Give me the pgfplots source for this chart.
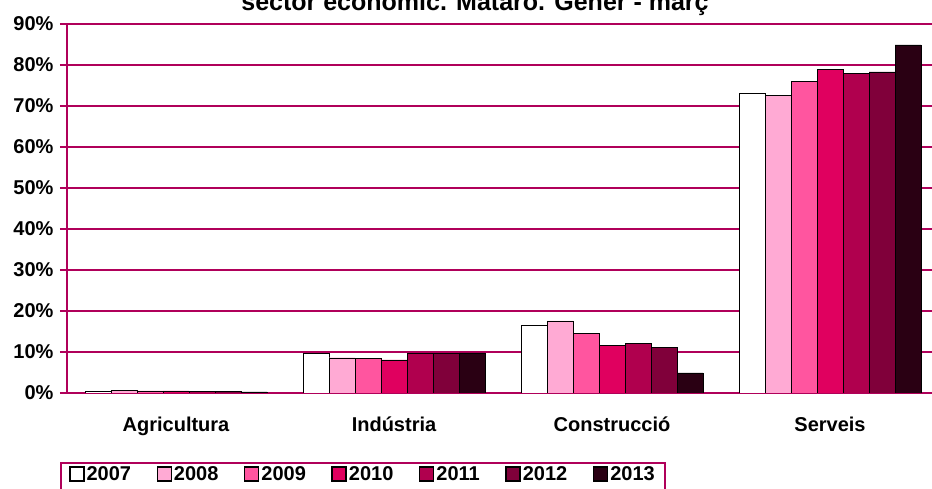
\documentclass[border=0pt]{standalone}
\usepackage{fontspec}
\setmainfont{Liberation Sans}
\usepackage{pgfplots}
\pgfplotsset{compat=1.18}
\definecolor{axmag}{HTML}{B0005A}
\definecolor{c07}{HTML}{FFFFFF}
\definecolor{c08}{HTML}{FFAAD4}
\definecolor{c09}{HTML}{FF559F}
\definecolor{c10}{HTML}{E0005F}
\definecolor{c11}{HTML}{B0004E}
\definecolor{c12}{HTML}{80003A}
\definecolor{c13}{HTML}{2A0013}

\begin{document}
\begin{tikzpicture}
\begin{axis}[
  at={(67bp,96bp)}, anchor=south west,
  scale only axis, width=872bp, height=369bp,
  ybar=0pt, bar width=26bp,
  xmin=-0.5, xmax=3.5, ymin=0, ymax=90,
  axis x line*=bottom, axis y line*=left,
  axis line style={axmag, line width=2.5bp},
  ymajorgrids, grid style={axmag, line width=1.5bp},
  ytick={0,10,20,30,40,50,60,70,80,90},
  yticklabels={0\%,10\%,20\%,30\%,40\%,50\%,60\%,70\%,80\%,90\%},
  xtick={0,1,2,3},
  xticklabels={Agricultura,Indústria,Construcció,Serveis},
  xtick style={draw=none},
  ytick style={axmag, line width=2.5bp},
  minor xtick={-0.5,0.5,1.5,2.5,3.5},
  minor x tick style={axmag, line width=2.5bp},
  tick align=outside, major tick length=7bp, minor tick length=6bp,
  ticklabel style={font=\bfseries\fontsize{20bp}{24bp}\selectfont},
  yticklabel style={xshift=-3bp},
  xticklabel style={yshift=-13bp},
  every bar/.append style={draw=black, line width=2bp},
  legend columns=7,
  legend image code/.code={\draw[#1, line width=1.5bp] (0bp,-1bp) rectangle (14bp,13bp);},
  legend style={at={(-0.008,-0.187)}, anchor=north west, draw=axmag, line width=2bp,
    inner xsep=8bp,
    font=\bfseries\fontsize{20bp}{24bp}\selectfont,
    nodes={text depth=12bp},
    /tikz/every even column/.append style={column sep=23.5bp}},
]
\addplot[fill=c07] coordinates {(0,0.4) (1,9.7) (2,16.6) (3,73.2)};
\addplot[fill=c08] coordinates {(0,0.6) (1,8.6) (2,17.6) (3,72.6)};
\addplot[fill=c09] coordinates {(0,0.5) (1,8.5) (2,14.6) (3,76.0)};
\addplot[fill=c10] coordinates {(0,0.5) (1,8.1) (2,11.6) (3,79.0)};
\addplot[fill=c11] coordinates {(0,0.4) (1,9.6) (2,12.1) (3,77.9)};
\addplot[fill=c12] coordinates {(0,0.4) (1,9.6) (2,11.2) (3,78.3)};
\addplot[fill=c13] coordinates {(0,0.3) (1,9.8) (2,4.9) (3,84.9)};
\legend{2007,2008,2009,2010,2011,2012,2013}
\end{axis}
\node[font=\bfseries\fontsize{25bp}{30bp}\selectfont, anchor=base] at (475bp,478bp) {sector econòmic. Mataró. Gener - març};
\pgfresetboundingbox
\useasboundingbox (0,0) rectangle (932bp,489bp);
\end{tikzpicture}
\end{document}
